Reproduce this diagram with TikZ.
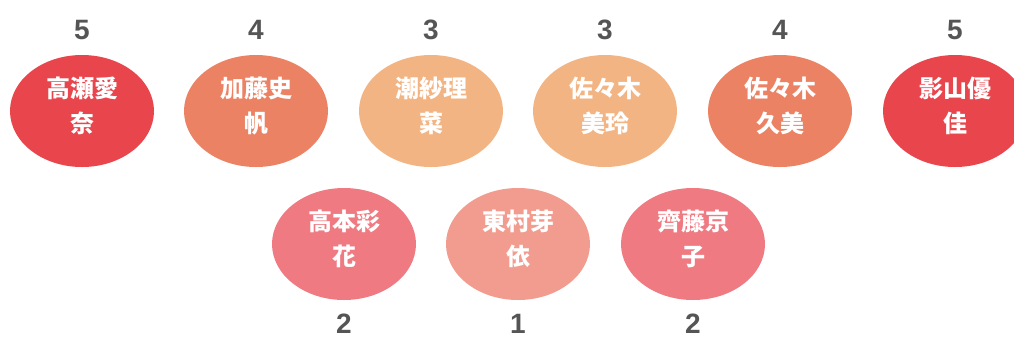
\documentclass[tikz,border=0pt]{standalone}
\usepackage{fontspec}
\setmainfont{Liberation Sans}
\newfontfamily\cjk{Noto Sans CJK JP}
\usetikzlibrary{shapes.geometric}
\definecolor{cfive}{HTML}{E8454C}
\definecolor{cfour}{HTML}{EC8264}
\definecolor{cthree}{HTML}{F3B483}
\definecolor{ctwo}{HTML}{EF7A82}
\definecolor{cone}{HTML}{F19C8F}
\definecolor{numgray}{HTML}{555555}
\tikzset{
  blob/.style={ellipse, minimum width=144bp, minimum height=112bp, inner sep=0pt, draw=none, fill=#1},
  nametext/.style={text=white, align=center, font=\cjk\bfseries\fontsize{24bp}{35bp}\selectfont, inner sep=0pt},
  numtext/.style={text=numgray, font=\bfseries\fontsize{28bp}{32bp}\selectfont, inner sep=0pt}
}
\begin{document}
\begin{tikzpicture}[x=1bp,y=-1bp]
\useasboundingbox (0,0) rectangle (1014,338);
\clip (0,0) rectangle (1014,338);
% top row
\node[blob=cfive]  (a) at (82,111) {};
\node[blob=cfour]  (b) at (256,111) {};
\node[blob=cthree] (c) at (431,111) {};
\node[blob=cthree] (d) at (605,111) {};
\node[blob=cfour]  (e) at (780,111) {};
\node[blob=cfive]  (f) at (955,111) {};
% bottom row
\node[blob=ctwo] (g) at (344,244) {};
\node[blob=cone] (h) at (518,244) {};
\node[blob=ctwo] (i) at (693,244) {};
% names
\node[nametext] (ta) at ([yshift=5bp]a.center) {高瀬愛\\奈};
\node[nametext] (tb) at ([yshift=5bp]b.center) {加藤史\\帆};
\node[nametext] (tc) at ([yshift=5bp]c.center) {潮紗理\\菜};
\node[nametext] (td) at ([yshift=5bp]d.center) {佐々木\\美玲};
\node[nametext] (te) at ([yshift=5bp]e.center) {佐々木\\久美};
\node[nametext] (tf) at ([yshift=5bp]f.center) {影山優\\佳};
\node[nametext] (tg) at ([yshift=5bp]g.center) {高本彩\\花};
\node[nametext] (th) at ([yshift=5bp]h.center) {東村芽\\依};
\node[nametext] (ti) at ([yshift=5bp]i.center) {齊藤京\\子};
% numbers
\node[numtext] (na) at (82,30) {5};
\node[numtext] (nb) at (256,30) {4};
\node[numtext] (nc) at (431,30) {3};
\node[numtext] (nd) at (605,30) {3};
\node[numtext] (ne) at (780,30) {4};
\node[numtext] (nf) at (955,30) {5};
\node[numtext] (ng) at (344,324) {2};
\node[numtext] (nh) at (518,324) {1};
\node[numtext] (ni) at (693,324) {2};
\end{tikzpicture}
\end{document}
